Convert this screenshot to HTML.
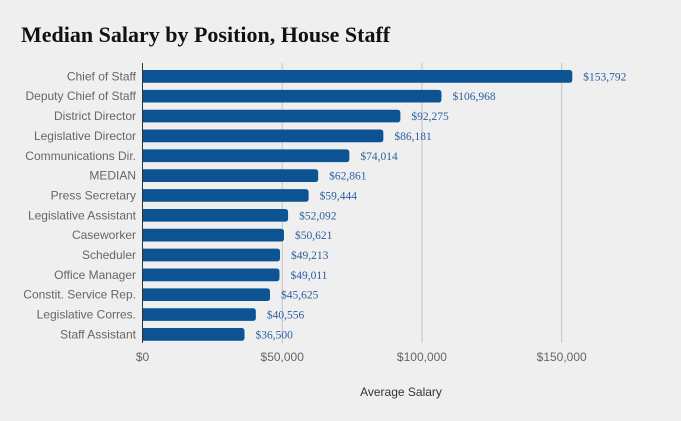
<!DOCTYPE html>
<html><head><meta charset="utf-8"><style>
body{margin:0;background:#efefef;}
svg{display:block}
</style></head><body>
<svg width="681" height="421" xmlns="http://www.w3.org/2000/svg">
<rect width="681" height="421" fill="#efefef"/>
<text x="21" y="42" font-family="Liberation Serif, serif" font-weight="bold" font-size="22" fill="#111">Median Salary by Position, House Staff</text>
<g id="grid"></g><g id="bars"></g><g id="labels"></g>
<line x1="142.5" y1="63" x2="142.5" y2="343" stroke="#333" stroke-width="1"/>
<text x="401" y="396" text-anchor="middle" font-family="Liberation Sans, sans-serif" font-size="12" fill="#333">Average Salary</text>
</svg>
<script>
const categories=["Chief of Staff","Deputy Chief of Staff","District Director","Legislative Director","Communications Dir.","MEDIAN","Press Secretary","Legislative Assistant","Caseworker","Scheduler","Office Manager","Constit. Service Rep.","Legislative Corres.","Staff Assistant"];
const values=[153792,106968,92275,86181,74014,62861,59444,52092,50621,49213,49011,45625,40556,36500];
const ticks=[0,50000,100000,150000];
const tickLabels=["$0","$50,000","$100,000","$150,000"];
const NS="http://www.w3.org/2000/svg";
const x=v=>142.5+v*(419.2/150000);
const y=i=>70+i*19.85;
const bh=12.7;
function mk(t,a,p){const e=document.createElementNS(NS,t);for(const k in a)e.setAttribute(k,a[k]);p.appendChild(e);return e;}
const G=document.getElementById('grid'),B=document.getElementById('bars'),L=document.getElementById('labels');
ticks.forEach((t,i)=>{
 if(t>0){const g=mk('line',{x1:x(t),x2:x(t),y1:63,y2:343,stroke:'#c4c4c4','stroke-width':1},G);
 
 }
 const tl=mk('text',{x:x(t),y:361,'text-anchor':'middle','font-family':'Liberation Sans, sans-serif','font-size':12,fill:'#666'},L);
 tl.textContent=tickLabels[i];
 
 
});
categories.forEach((c,i)=>{
 const w=x(values[i])-x(0);
 const b=mk('path',{d:`M${x(0)},${y(i)}h${w-3}q3,0 3,3v${bh-6}q0,3 -3,3h${-(w-3)}z`,fill:'#0c5394'},B);
 
 
 const cl=mk('text',{x:136,y:y(i)+bh/2+4,'text-anchor':'end','font-family':'Liberation Sans, sans-serif','font-size':12,fill:'#666'},L);
 cl.textContent=c;
 
 
 const vl=mk('text',{x:x(values[i])+11,y:y(i)+bh/2+4,'font-family':'Liberation Serif, serif','font-size':11.5,fill:'#2a5fa0'},L);
 vl.textContent='$'+values[i].toLocaleString('en-US');
 
 
});
</script>
</body></html>
